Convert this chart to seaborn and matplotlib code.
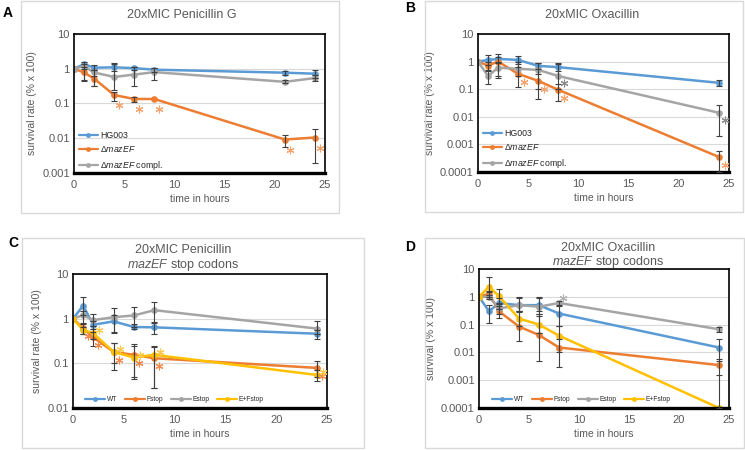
import numpy as np
import pandas as pd
import matplotlib
matplotlib.use("Agg")
import matplotlib.pyplot as plt
from matplotlib.lines import Line2D
from matplotlib.patches import Rectangle
from matplotlib.transforms import offset_copy
from matplotlib.ticker import LogLocator, NullLocator, FuncFormatter, MultipleLocator
import seaborn as sns

nan = np.nan

# ---- panel A: 20xMIC Penicillin G ----
t_A = [0, 1, 2, 4, 6, 8, 21, 24]
A_hg003 = [1, 1.35, 1.07, 1.1, 1.04, 0.94, 0.77, 0.72]
A_hg003_lo = [nan, 1.15, 0.9, 0.85, 0.9, 0.82, 0.68, 0.55]
A_hg003_hi = [nan, 1.58, 1.25, 1.42, 1.15, 1.05, 0.86, 0.95]
A_maz = [1, 0.78, 0.52, 0.175, 0.135, 0.135, 0.0092, 0.0105]
A_maz_lo = [nan, 0.46, 0.31, 0.12, 0.11, nan, 0.0055, 0.002]
A_maz_hi = [nan, 1.0, 0.62, 0.215, 0.155, nan, 0.0125, 0.019]
A_comp = [1, 1.18, 0.78, 0.58, 0.68, 0.8, 0.42, 0.54]
A_comp_lo = [nan, 0.45, 0.31, 0.24, 0.32, 0.46, 0.39, 0.45]
A_comp_hi = [nan, 1.4, 0.95, 1.4, 1.1, 1.02, 0.46, 0.66]
A_sig_maz = [4, 6, 8, 21, 24]

# ---- panel B: 20xMIC Oxacillin ----
t_B = [0, 1, 2, 4, 6, 8, 24]
B_hg003 = [1, 1.15, 1.25, 1.15, 0.7, 0.63, 0.17]
B_hg003_lo = [nan, 0.75, 0.9, 0.85, 0.55, 0.45, 0.13]
B_hg003_hi = [nan, 1.7, 1.95, 1.6, 0.9, 0.85, 0.22]
B_maz = [1, 0.72, 1.0, 0.36, 0.2, 0.095, 0.00035]
B_maz_lo = [nan, 0.5, 0.25, 0.125, 0.045, 0.036, 0.0001]
B_maz_hi = [nan, 1.0, 1.5, 0.66, 0.36, 0.16, 0.00058]
B_comp = [1, 0.3, 0.6, 0.55, 0.5, 0.3, 0.014]
B_comp_lo = [nan, 0.15, 0.3, 0.3, 0.1, 0.1, 0.0021]
B_comp_hi = [nan, 0.45, 1.0, 1.0, 0.9, 0.87, 0.027]
B_sig_maz = [4, 6, 8, 24]
B_sig_comp = [8, 24]

# ---- panel C: 20xMIC Penicillin, stop codons ----
t_C = [0, 1, 2, 4, 6, 8, 24]
C_wt = [1, 1.95, 0.73, 0.87, 0.65, 0.64, 0.46]
C_wt_lo = [nan, 1.2, 0.6, 0.5, 0.6, 0.45, 0.35]
C_wt_hi = [nan, 3.0, 0.9, 1.2, 0.75, 0.85, 0.55]
C_f = [1, 0.61, 0.38, 0.18, 0.155, 0.13, 0.079]
C_f_lo = [nan, 0.45, 0.24, 0.07, 0.05, 0.028, 0.05]
C_f_hi = [nan, 0.75, 0.5, 0.29, 0.27, 0.23, 0.115]
C_e = [1, 1.2, 0.93, 1.08, 1.18, 1.55, 0.6]
C_e_lo = [nan, 0.8, 0.7, 0.48, 0.65, 0.8, 0.45]
C_e_hi = [nan, 1.5, 1.25, 1.75, 1.8, 2.4, 0.87]
C_ef = [1, 0.56, 0.47, 0.18, 0.135, 0.155, 0.055]
C_ef_lo = [nan, 0.45, 0.35, 0.1, 0.045, 0.028, 0.04]
C_ef_hi = [nan, 0.65, 0.6, 0.28, 0.25, 0.24, 0.07]
C_sig_f = [1, 2, 4, 6, 8, 24]
C_sig_ef = [2, 4, 6, 8, 24]

# ---- panel D: 20xMIC Oxacillin, stop codons ----
t_D = [0, 1, 2, 4, 6, 8, 24]
D_wt = [1, 0.3, 0.6, 0.5, 0.5, 0.25, 0.015]
D_wt_lo = [nan, 0.115, 0.35, 0.3, 0.25, 0.09, 0.005]
D_wt_hi = [nan, 0.5, 0.9, 1.0, 1.0, 0.45, 0.03]
D_f = [1, 1.3, 0.3, 0.085, 0.042, 0.015, 0.0035]
D_f_lo = [nan, 1.0, 0.18, 0.025, 0.005, 0.003, 0.0001]
D_f_hi = [nan, 1.6, 0.45, 0.3, 0.25, 0.03, 0.006]
D_e = [1, 1.0, 0.38, 0.5, 0.44, 0.6, 0.068]
D_e_lo = [nan, 0.8, 0.25, 0.28, 0.3, 0.5, 0.055]
D_e_hi = [nan, 1.2, 0.55, 0.9, 0.9, 0.7, 0.085]
D_ef = [1, 2.3, 1.05, 0.165, 0.1, 0.04, 0.0001]
D_ef_lo = [nan, 1.5, 0.6, 0.09, 0.05, 0.01, nan]
D_ef_hi = [nan, 5.0, 1.85, 0.3, 0.2, 0.09, 0.0015]
D_sig_e = [8]

BLUE, ORANGE, GRAY, YELLOW = "#5B9BD5", "#ED7D31", "#A5A5A5", "#FFC000"
TXT = "#595959"

sns.set_style("white")
plt.rcParams["font.family"] = ["Liberation Sans", "DejaVu Sans"]
plt.rcParams["mathtext.fontset"] = "custom"
plt.rcParams["mathtext.rm"] = "Liberation Sans"
plt.rcParams["mathtext.it"] = "Liberation Sans:italic"

fig = plt.figure(figsize=(7.45, 4.5), dpi=100)

# light gray chart-area frames (pixel boxes -> figure fraction)
for x0, y0, x1, y1 in [(21, 1, 339, 213), (425, 1, 743, 212),
                       (22, 238, 364, 448), (425, 238, 744, 448)]:
    fig.patches.append(Rectangle((x0 / 745, 1 - y1 / 450), (x1 - x0) / 745, (y1 - y0) / 450,
                                 transform=fig.transFigure, fill=False,
                                 edgecolor="#d9d9d9", lw=1))


def make_axes(rect, ymin):
    ax = fig.add_axes(rect)
    ax.set_yscale("log")
    ax.set_ylim(ymin, 10)
    ax.set_xlim(0, 25)
    ax.yaxis.set_major_locator(LogLocator(base=10, numticks=10))
    ax.yaxis.set_minor_locator(NullLocator())
    ax.yaxis.set_major_formatter(FuncFormatter(lambda v, p: f"{v:g}"))
    ax.xaxis.set_major_locator(MultipleLocator(5))
    ax.xaxis.set_minor_locator(MultipleLocator(1))
    ax.grid(axis="y", which="major", color="#d9d9d9", lw=0.8)
    for s in ["top", "right", "left"]:
        ax.spines[s].set_color("black")
        ax.spines[s].set_linewidth(1.2)
    ax.spines["bottom"].set_color("black")
    ax.spines["bottom"].set_linewidth(2.4)
    ax.tick_params(axis="y", length=0, labelsize=8, labelcolor=TXT, pad=3)
    ax.tick_params(axis="x", which="both", direction="inout", length=4, width=1.5,
                   color="black", labelsize=8, labelcolor=TXT, pad=3)
    return ax


def draw_series(ax, t, series):
    # series: list of (name, values, lo, hi, color)
    rows = []
    for name, vals, lo, hi, col in series:
        for ti, v in zip(t, vals):
            rows.append({"t": ti, "v": v, "strain": name})
    df = pd.DataFrame(rows)
    names = [s[0] for s in series]
    pal = {s[0]: s[4] for s in series}
    sns.lineplot(data=df, x="t", y="v", hue="strain", hue_order=names, palette=pal,
                 marker="o", markersize=4.8, markeredgewidth=0, linewidth=1.8,
                 legend=False, ax=ax, zorder=2)
    for name, vals, lo, hi, col in series:
        v = np.array(vals, float)
        err = [np.maximum(v - np.array(lo, float), 0), np.maximum(np.array(hi, float) - v, 0)]
        ax.errorbar(t, v, yerr=err, fmt="none", ecolor="#404040", elinewidth=0.8,
                    capsize=2, capthick=0.8, zorder=3)
    ax.set_xlabel("time in hours", fontsize=7.5, color=TXT, labelpad=3)


def stars(ax, t, vals, sig, color, dx, dy):
    # significance asterisks, offset a few pixels from the data point
    ys = [vals[t.index(s)] for s in sig]
    tr = offset_copy(ax.transData, fig=fig, x=dx, y=dy, units="dots")
    ax.plot(sig, ys, ls="none", marker=(6, 2, 0), ms=5.5, mew=0.8, color=color,
            transform=tr, clip_on=False, zorder=4)


def strain_legend(ax, labels, colors, **kw):
    handles = [Line2D([], [], color=c, marker="o", ms=3.5, mew=0, lw=1.6) for c in colors]
    ax.legend(handles, labels, frameon=False, **kw)


# ---- A ----
axA = make_axes([74 / 745, 1 - 173 / 450, 251 / 745, 139 / 450], 0.001)
draw_series(axA, t_A, [("HG003", A_hg003, A_hg003_lo, A_hg003_hi, BLUE),
                       ("dmazEF", A_maz, A_maz_lo, A_maz_hi, ORANGE),
                       ("dcomp", A_comp, A_comp_lo, A_comp_hi, GRAY)])
stars(axA, t_A, A_maz, A_sig_maz, "#F4A46E", 5, -10)
axA.set_ylabel("survival rate (% x 100)", fontsize=7.5, color=TXT, labelpad=4)
strain_legend(axA, ["HG003", r"Δ$\it{mazEF}$", r"Δ$\it{mazEF}$ compl."],
              [BLUE, ORANGE, GRAY], loc="upper left", bbox_to_anchor=(0.0, 0.34),
              fontsize=6.3, handlelength=2.1, labelspacing=0.5, handletextpad=0.3,
              borderaxespad=0.2)

# ---- B ----
axB = make_axes([478 / 745, 1 - 172 / 450, 251 / 745, 138 / 450], 0.0001)
draw_series(axB, t_B, [("HG003", B_hg003, B_hg003_lo, B_hg003_hi, BLUE),
                       ("dmazEF", B_maz, B_maz_lo, B_maz_hi, ORANGE),
                       ("dcomp", B_comp, B_comp_lo, B_comp_hi, GRAY)])
stars(axB, t_B, B_maz, B_sig_maz, "#F4A46E", 6, -8)
stars(axB, t_B, B_comp, B_sig_comp, "#8c8c8c", 6, -7)
axB.set_ylabel("survival rate (% x 100)", fontsize=7.5, color=TXT, labelpad=4)
strain_legend(axB, ["HG003", r"Δ$\it{mazEF}$", r"Δ$\it{mazEF}$ compl."],
              [BLUE, ORANGE, GRAY], loc="upper left", bbox_to_anchor=(0.0, 0.35),
              fontsize=6.3, handlelength=2.1, labelspacing=0.5, handletextpad=0.3,
              borderaxespad=0.2)

# ---- C ----
axC = make_axes([73 / 745, 1 - 408 / 450, 254 / 745, 134 / 450], 0.01)
draw_series(axC, t_C, [("WT", C_wt, C_wt_lo, C_wt_hi, BLUE),
                       ("Fstop", C_f, C_f_lo, C_f_hi, ORANGE),
                       ("Estop", C_e, C_e_lo, C_e_hi, GRAY),
                       ("E+Fstop", C_ef, C_ef_lo, C_ef_hi, YELLOW)])
stars(axC, t_C, C_f, C_sig_f, "#F08A4B", 5, -8)
stars(axC, t_C, C_ef, C_sig_ef, "#FFC94D", 6, 3)
axC.set_ylabel("survival rate (% x 100)", fontsize=7.5, color=TXT, labelpad=4)
strain_legend(axC, ["WT", "Fstop", "Estop", "E+Fstop"], [BLUE, ORANGE, GRAY, YELLOW],
              loc="lower center", bbox_to_anchor=(0.4, 0.0), ncol=4, fontsize=4.8,
              handlelength=3.0, columnspacing=1.2, handletextpad=0.2, borderaxespad=0.3)

# ---- D ----
axD = make_axes([479 / 745, 1 - 408 / 450, 250 / 745, 139 / 450], 0.0001)
draw_series(axD, t_D, [("WT", D_wt, D_wt_lo, D_wt_hi, BLUE),
                       ("Fstop", D_f, D_f_lo, D_f_hi, ORANGE),
                       ("Estop", D_e, D_e_lo, D_e_hi, GRAY),
                       ("E+Fstop", D_ef, D_ef_lo, D_ef_hi, YELLOW)])
stars(axD, t_D, D_e, D_sig_e, "#b0b0b0", 4, 5)
axD.set_ylabel("survival (% x 100)", fontsize=7.5, color=TXT, labelpad=4)
strain_legend(axD, ["WT", "Fstop", "Estop", "E+Fstop"], [BLUE, ORANGE, GRAY, YELLOW],
              loc="lower center", bbox_to_anchor=(0.41, 0.0), ncol=4, fontsize=4.8,
              handlelength=3.0, columnspacing=1.2, handletextpad=0.2, borderaxespad=0.3)

# titles and panel letters
fig.text(182 / 745, 1 - 15 / 450, "20xMIC Penicillin G", ha="center", va="center",
         fontsize=9, color=TXT)
fig.text(592 / 745, 1 - 15 / 450, "20xMIC Oxacillin", ha="center", va="center",
         fontsize=9, color=TXT)
fig.text(183 / 745, 1 - 250 / 450, "20xMIC Penicillin", ha="center", va="center",
         fontsize=9, color=TXT)
fig.text(183 / 745, 1 - 265 / 450, r"$\it{mazEF}$ stop codons", ha="center", va="center",
         fontsize=9, color=TXT)
fig.text(608 / 745, 1 - 248 / 450, "20xMIC Oxacillin", ha="center", va="center",
         fontsize=9, color=TXT)
fig.text(608 / 745, 1 - 262 / 450, r"$\it{mazEF}$ stop codons", ha="center", va="center",
         fontsize=9, color=TXT)
for lbl, x, y in [("A", 8, 13), ("B", 410, 8), ("C", 13, 243), ("D", 410, 247)]:
    fig.text(x / 745, 1 - y / 450, lbl, ha="center", va="center", fontsize=10,
             fontweight="bold", color="black")

fig.savefig("out.png", dpi=100)
